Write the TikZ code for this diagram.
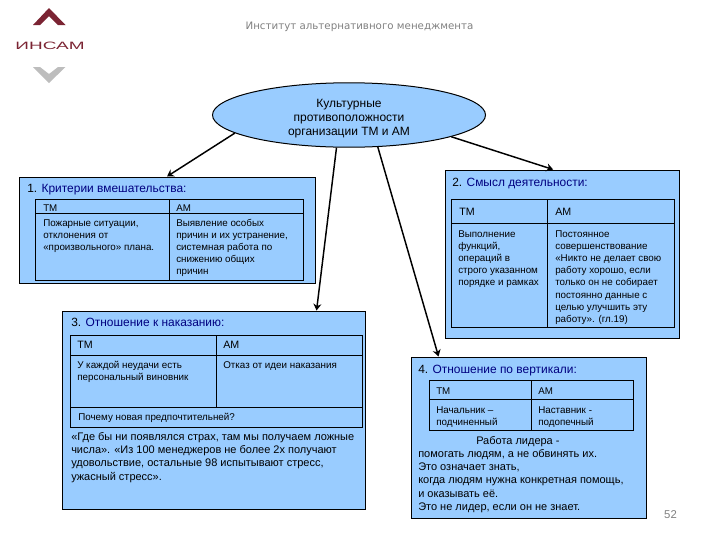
\documentclass[tikz,border=0pt]{standalone}
\usepackage{fontspec}
\setmainfont{Liberation Sans}
\newfontfamily\headfont{DejaVu Sans}
\usetikzlibrary{shapes.geometric,arrows.meta}
\definecolor{boxblue}{HTML}{99CCFF}
\definecolor{titleblue}{HTML}{000080}
\definecolor{logored}{HTML}{7B2433}
\definecolor{logogray}{HTML}{BDBDBD}
\newcommand\tx[5]{\node[#4] (#1) at (#2,#3) {\strut #5};}
\tikzset{
  x=0.75pt,y=-0.75pt,
  grid/.style={draw=black,line width=0.75pt},
  conn/.style={draw=black,line width=1.1pt,-{Stealth[length=5pt,width=6pt]}},
  ts/.style={anchor=north west,inner sep=0pt,align=left,text=black},
  body/.style={ts,font=\fontsize{7.37pt}{9.1pt}\selectfont},
  head/.style={ts,font=\fontsize{8pt}{9pt}\selectfont},
  heads/.style={ts,font=\fontsize{7.3pt}{9pt}\selectfont},
  para/.style={ts,font=\fontsize{8.24pt}{10pt}\selectfont},
  ptitle/.style={ts,font=\fontsize{8.95pt}{10pt}\selectfont},
}
\begin{document}
\begin{tikzpicture}
\useasboundingbox (0,0) rectangle (720,540);
% logo
\fill[logored] (49,8) -- (65.5,25) -- (58,25) -- (49,16) -- (40,25) -- (33,25) -- cycle;
\fill[logogray] (33,67) -- (40,67) -- (49,74) -- (58,67) -- (65.5,67) -- (49,83) -- cycle;
\node[inner sep=0pt,text=logored] (logo) at (50,46) {\scalebox{1.78}[1]{\fontsize{8pt}{9pt}\selectfont ИНСАМ}};
% header
\node[inner sep=0pt,text=gray,font=\headfont\fontsize{7.7pt}{8pt}\selectfont] (hdr) at (359.5,27) {Институт альтернативного менеджмента};
\node[inner sep=0pt,text=gray,font=\fontsize{8.5pt}{9pt}\selectfont] (pg) at (670.5,515) {52};
% panels
\node[draw=black,fill=boxblue,line width=0.75pt,inner sep=0pt,minimum width=222pt,minimum height=79.5pt] (b1) at (167,230) {};
\node[draw=black,fill=boxblue,line width=0.75pt,inner sep=0pt,minimum width=175.5pt,minimum height=126pt] (b2) at (562,254) {};
\node[draw=black,fill=boxblue,line width=0.75pt,inner sep=0pt,minimum width=227.25pt,minimum height=148.5pt] (b3) at (213.5,410) {};
\node[draw=black,fill=boxblue,line width=0.75pt,inner sep=0pt,minimum width=176.25pt,minimum height=120.75pt] (b4) at (528.5,437.5) {};
% tables
\draw[grid] (35,199) rectangle (303,280) (169,199) -- (169,280) (35,213) -- (303,213);
\draw[grid] (451,199) rectangle (674,327) (547,199) -- (547,327) (451,223) -- (674,223);
\draw[grid] (70,335) rectangle (362,427) (216,335) -- (216,407) (70,355) -- (362,355) (70,407) -- (362,407);
\draw[grid] (429,380) rectangle (633,430) (531,380) -- (531,430) (429,399) -- (633,399);
% ellipse
\node[ellipse,draw=black,fill=boxblue,line width=0.75pt,inner sep=0pt,minimum width=204.75pt,minimum height=48pt,align=center,font=\fontsize{9pt}{10.4pt}\selectfont] (ell) at (349,115) {\rule{0pt}{11.5pt}Культурные\\противоположности\\организации ТМ и АМ};
% connectors
\draw[conn] (ell.189) -- (b1.north);
\draw[conn] (ell.348) -- (b2.96);
\draw[conn] (ell.249.4) -- (b3.44.6);
\draw[conn] (ell.312) -- (b4.138.4);
% panel 1
\tx{t1}{27}{183.2}{ptitle}{1. \textcolor{titleblue}{Критерии вмешательства:}}
\tx{t1a}{43}{202.6}{heads}{ТМ}
\tx{t1b}{176}{202.6}{heads}{АМ}
\tx{t1c}{43}{217.5}{body}{Пожарные ситуации,\\отклонения от\\«произвольного» плана.}
\tx{t1d}{176}{217.5}{body}{Выявление особых\\причин и их устранение,\\системная работа по\\снижению общих\\причин}
% panel 2
\tx{t2}{452}{176.7}{ptitle}{2. \textcolor{titleblue}{Смысл деятельности:}}
\tx{t2a}{459}{206.6}{head}{ТМ}
\tx{t2b}{555}{206.6}{head}{АМ}
\tx{t2c}{458}{228.6}{body}{Выполнение\\функций,\\операций в\\строго указанном\\порядке и рамках}
\tx{t2d}{555}{228.6}{body}{Постоянное\\совершенствование\\«Никто не делает свою\\работу хорошо, если\\только он не собирает\\постоянно данные с\\целью улучшить эту\\работу». (гл.19)}
% panel 3
\tx{t3}{71}{316.7}{ptitle}{3. \textcolor{titleblue}{Отношение к наказанию:}}
\tx{t3a}{77}{339.6}{head}{ТМ}
\tx{t3b}{223}{339.6}{head}{АМ}
\tx{t3c}{77}{359.6}{body}{У каждой неудачи есть\\персональный виновник}
\tx{t3d}{223}{359.6}{body}{Отказ от идеи наказания}
\tx{t3e}{78}{411.6}{body}{Почему новая предпочтительней?}
\tx{t3f}{71}{430.6}{para}{«Где бы ни появлялся страх, там мы получаем ложные\\числа». «Из 100 менеджеров не более 2х получают\\удовольствие, остальные 98 испытывают стресс,\\ужасный стресс».}
% panel 4
\tx{t4}{418}{363.7}{ptitle}{4. \textcolor{titleblue}{Отношение по вертикали:}}
\tx{t4a}{436}{385.6}{heads}{ТМ}
\tx{t4b}{538}{385.6}{heads}{АМ}
\tx{t4c}{436}{404.6}{body}{Начальник –\\подчиненный}
\tx{t4d}{538}{404.6}{body}{Наставник -\\подопечный}
\tx{t4e}{476}{434.6}{para}{Работа лидера -}
\tx{t4f}{418}{447.6}{para}{помогать людям, а не обвинять их.\\Это означает знать,\\когда людям нужна конкретная помощь,\\и оказывать её.\\Это не лидер, если он не знает.}
\end{tikzpicture}
\end{document}
